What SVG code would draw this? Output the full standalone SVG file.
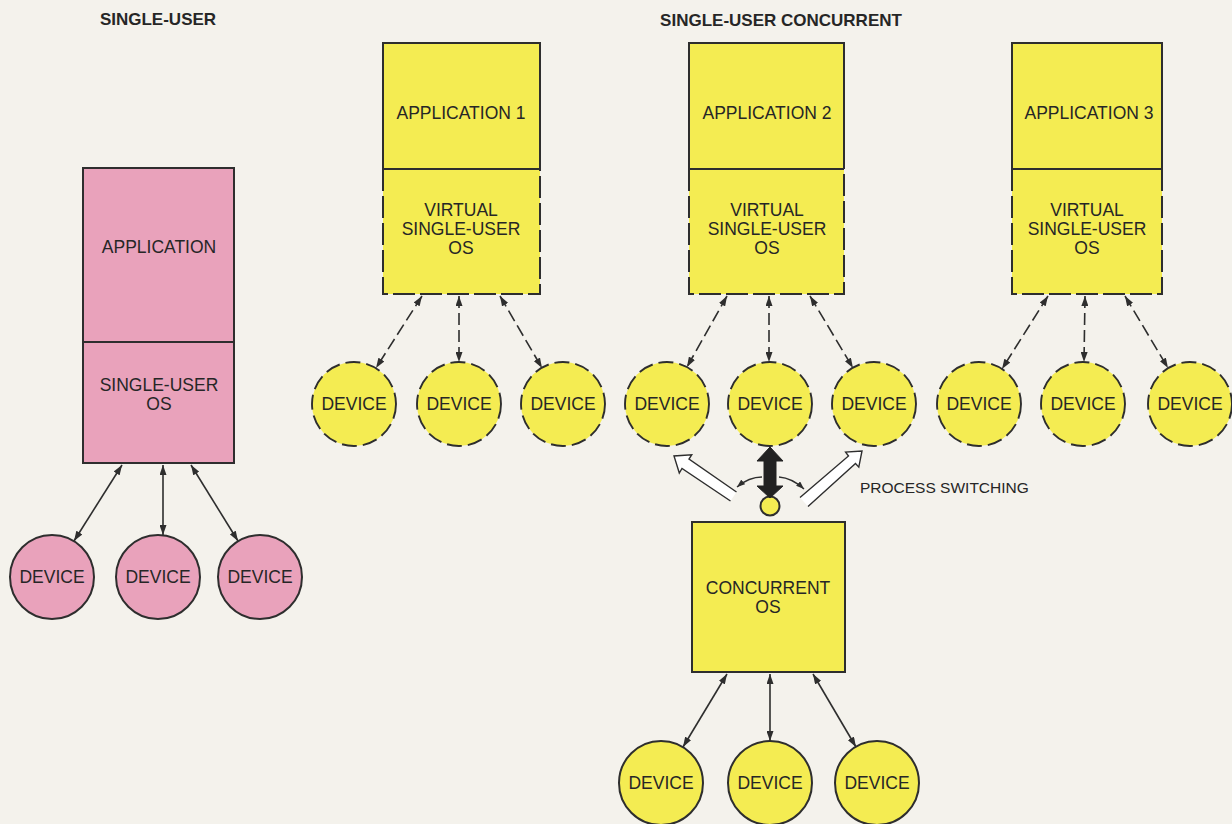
<svg xmlns="http://www.w3.org/2000/svg" width="1232" height="824" viewBox="0 0 1232 824">
<defs>
<style>
text{font-family:"Liberation Sans",Arial,Helvetica,sans-serif;font-size:17.5px;fill:#262626;text-anchor:middle}
.title{font-weight:bold;font-size:17px}
.lbl{font-size:15.5px;text-anchor:start}
.pink{fill:#e9a2bb;stroke:#2e2e2e;stroke-width:2}
.yel{fill:#f4ec52;stroke:#2e2e2e;stroke-width:2}
.yfill{fill:#f4ec52;stroke:none}
.edge{fill:none;stroke:#2e2e2e;stroke-width:2}
.dedge{fill:none;stroke:#2e2e2e;stroke-width:2;stroke-dasharray:22 5}
.dcirc{fill:#f4ec52;stroke:#2e2e2e;stroke-width:1.9;stroke-dasharray:15 6}
.conn{fill:none;stroke:#2e2e2e;stroke-width:1.6;marker-start:url(#ah);marker-end:url(#ah)}
.dconn{fill:none;stroke:#2e2e2e;stroke-width:1.6;stroke-dasharray:12 5;marker-start:url(#ah);marker-end:url(#ah)}
.curl{fill:none;stroke:#2e2e2e;stroke-width:1.4;marker-end:url(#sh)}
.hollow{fill:#ffffff;stroke:#2e2e2e;stroke-width:1.4}
</style>
<marker id="ah" viewBox="0 0 10 7" refX="10" refY="3.5" markerWidth="10" markerHeight="7" markerUnits="userSpaceOnUse" orient="auto-start-reverse">
<path d="M0,0 L10,3.5 L0,7 z" fill="#2e2e2e"/>
</marker>
<marker id="sh" viewBox="0 0 8 6" refX="8" refY="3" markerWidth="8" markerHeight="6" markerUnits="userSpaceOnUse" orient="auto">
<path d="M0,0 L8,3 L0,6 z" fill="#2e2e2e"/>
</marker>
</defs>
<rect x="0" y="0" width="1232" height="824" fill="#f4f2ec"/>

<g id="titles">
<text class="title" x="158" y="25">SINGLE-USER</text>
<text class="title" x="781" y="26">SINGLE-USER CONCURRENT</text>
</g>

<g id="single-user-stack">
<rect class="pink" x="83" y="168" width="151" height="295"/>
<line class="edge" x1="83" y1="342" x2="234" y2="342"/>
<text x="159" y="253">APPLICATION</text>
<text x="159" y="391">SINGLE-USER</text>
<text x="159" y="410">OS</text>
</g>
<g id="pink-device-1"><circle class="pink" cx="52" cy="577" r="42"/><text x="52" y="583">DEVICE</text></g>
<g id="pink-device-2"><circle class="pink" cx="158" cy="577" r="42"/><text x="158" y="583">DEVICE</text></g>
<g id="pink-device-3"><circle class="pink" cx="260" cy="577" r="42"/><text x="260" y="583">DEVICE</text></g>

<g id="app-1">
<rect class="yfill" x="383" y="43" width="157" height="251"/>
<path class="edge" d="M383,169 V43 H540 V169 M383,169 H540"/>
<path class="dedge" d="M383,169 V294 H540 V169"/>
<text x="461" y="119">APPLICATION 1</text>
<text x="461" y="216">VIRTUAL</text>
<text x="461" y="235">SINGLE-USER</text>
<text x="461" y="254">OS</text>
</g>
<g id="app-2">
<rect class="yfill" x="689" y="43" width="155" height="251"/>
<path class="edge" d="M689,169 V43 H844 V169 M689,169 H844"/>
<path class="dedge" d="M689,169 V294 H844 V169"/>
<text x="767" y="119">APPLICATION 2</text>
<text x="767" y="216">VIRTUAL</text>
<text x="767" y="235">SINGLE-USER</text>
<text x="767" y="254">OS</text>
</g>
<g id="app-3">
<rect class="yfill" x="1012" y="43" width="150" height="251"/>
<path class="edge" d="M1012,169 V43 H1162 V169 M1012,169 H1162"/>
<path class="dedge" d="M1012,169 V294 H1162 V169"/>
<text x="1089" y="119">APPLICATION 3</text>
<text x="1087" y="216">VIRTUAL</text>
<text x="1087" y="235">SINGLE-USER</text>
<text x="1087" y="254">OS</text>
</g>

<g id="vdev-1"><circle class="dcirc" cx="354" cy="404" r="42"/><text x="354" y="410">DEVICE</text></g>
<g id="vdev-2"><circle class="dcirc" cx="459" cy="404" r="42"/><text x="459" y="410">DEVICE</text></g>
<g id="vdev-3"><circle class="dcirc" cx="563" cy="404" r="42"/><text x="563" y="410">DEVICE</text></g>
<g id="vdev-4"><circle class="dcirc" cx="667" cy="404" r="42"/><text x="667" y="410">DEVICE</text></g>
<g id="vdev-5"><circle class="dcirc" cx="770" cy="404" r="42"/><text x="770" y="410">DEVICE</text></g>
<g id="vdev-6"><circle class="dcirc" cx="874" cy="404" r="42"/><text x="874" y="410">DEVICE</text></g>
<g id="vdev-7"><circle class="dcirc" cx="979" cy="404" r="42"/><text x="979" y="410">DEVICE</text></g>
<g id="vdev-8"><circle class="dcirc" cx="1083" cy="404" r="42"/><text x="1083" y="410">DEVICE</text></g>
<g id="vdev-9"><circle class="dcirc" cx="1190" cy="404" r="42"/><text x="1190" y="410">DEVICE</text></g>

<g id="process-switch">
<circle class="yel" cx="770" cy="506" r="9.5"/>
<path d="M770,447 L783,461 L776,461 L776,486 L783,486 L770,498 L757,486 L764,486 L764,461 L757,461 Z" fill="#222" stroke="#222" stroke-width="1"/>
<path class="hollow" d="M736.5,492 L689,459 L691.7,454.8 L674,456 L679.3,473 L682,468.5 L730.5,501"/>
<path class="hollow" d="M800,497.5 L848.5,456 L845.6,452.1 L862,451 L858.8,467.1 L855.5,463.5 L808,506.5"/>
<path class="curl" d="M762,477 Q749,477 737,487"/>
<path class="curl" d="M779,477 Q792,478 804,489"/>
<text class="lbl" x="860" y="493">PROCESS SWITCHING</text>
</g>

<g id="concurrent-os">
<rect class="yel" x="692" y="522" width="153" height="150"/>
<text x="768" y="594">CONCURRENT</text>
<text x="768" y="613">OS</text>
</g>
<g id="dev-1"><circle class="yel" cx="661" cy="783" r="42"/><text x="661" y="789">DEVICE</text></g>
<g id="dev-2"><circle class="yel" cx="770" cy="783" r="42"/><text x="770" y="789">DEVICE</text></g>
<g id="dev-3"><circle class="yel" cx="877" cy="783" r="42"/><text x="877" y="789">DEVICE</text></g>

<g id="connectors">
<line class="conn" x1="122" y1="465" x2="74" y2="541"/>
<line class="conn" x1="163" y1="465" x2="163" y2="535"/>
<line class="conn" x1="191" y1="465" x2="238" y2="541"/>

<line class="dconn" x1="422" y1="296" x2="376" y2="368"/>
<line class="dconn" x1="459" y1="296" x2="459" y2="362"/>
<line class="dconn" x1="500" y1="296" x2="542" y2="368"/>

<line class="dconn" x1="727" y1="296" x2="687" y2="367"/>
<line class="dconn" x1="769" y1="296" x2="769" y2="362"/>
<line class="dconn" x1="810" y1="296" x2="853" y2="368"/>

<line class="dconn" x1="1048" y1="296" x2="1002" y2="369"/>
<line class="dconn" x1="1085" y1="296" x2="1084" y2="362"/>
<line class="dconn" x1="1125" y1="296" x2="1168" y2="368"/>

<line class="conn" x1="727" y1="674" x2="683" y2="747"/>
<line class="conn" x1="770" y1="674" x2="770" y2="741"/>
<line class="conn" x1="813" y1="674" x2="856" y2="747"/>
</g>
</svg>
